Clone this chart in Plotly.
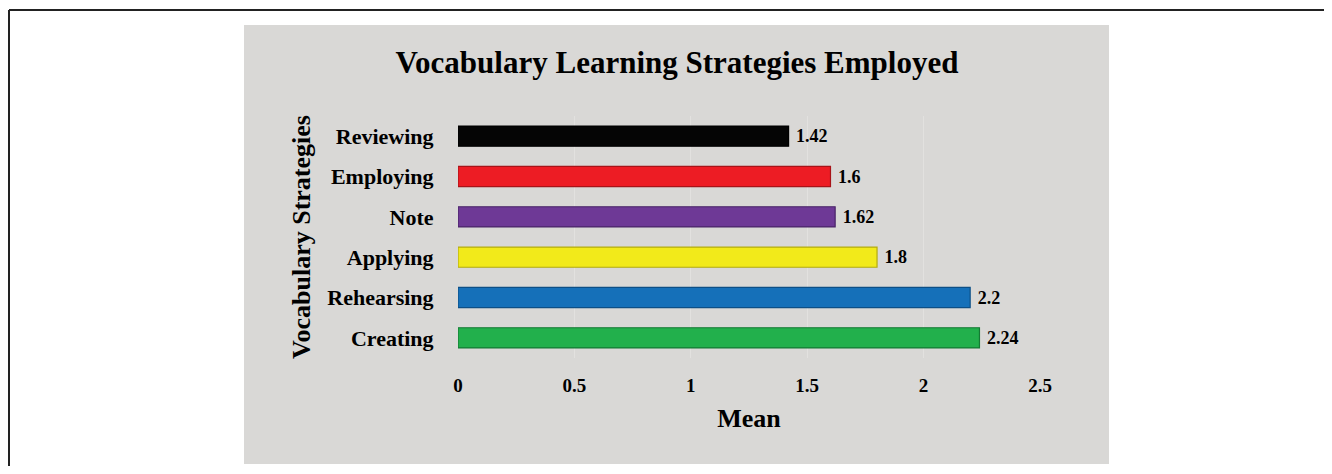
import plotly.graph_objects as go

categories = ["Creating", "Rehearsing", "Applying", "Note", "Employing", "Reviewing"]
means = [2.24, 2.2, 1.8, 1.62, 1.6, 1.42]
colors = ["#22b04c", "#1570b9", "#f2ea1a", "#6e3996", "#ed1c24", "#050505"]
edge_colors = ["#137a33", "#0d4f86", "#b3ab10", "#4a2468", "#a81318", "#000000"]
x_ticks = [0, 0.5, 1, 1.5, 2, 2.5]
x_tick_labels = ["0", "0.5", "1", "1.5", "2", "2.5"]

OFF = 8  # page body margin offset
SW, SH = 1332, 474
W, H = SW - OFF, SH - 2 * OFF
FONT = "Liberation Serif"

# desired screen pixels of the plot area
SX0, SX1, SY0, SY1 = 458, 1040, 116, 358
L, R = SX0 - OFF, SX1 - OFF
T, B = SY0 - OFF, SY1 - OFF
PW, PH = R - L, B - T


def px_x(sx):
    return (sx - OFF - L) / PW


def px_y(sy):
    return (B - (sy - OFF)) / PH


fig = go.Figure()
fig.add_trace(go.Bar(
    y=categories, x=means, orientation="h",
    marker=dict(color=colors, line=dict(color=edge_colors, width=1.2)),
    width=0.5,
    texttemplate="<b>\u00a0%{x}</b>", textposition="outside",
    textfont=dict(family=FONT, size=18, color="black"),
    cliponaxis=False, showlegend=False, hoverinfo="x+y",
))

shapes = [
    dict(type="rect", xref="paper", yref="paper", x0=px_x(244), x1=px_x(1109),
         y0=px_y(464), y1=px_y(25), fillcolor="#d9d8d6", line=dict(width=0), layer="below"),
    dict(type="line", xref="paper", yref="paper", x0=px_x(9), x1=px_x(1340), y0=px_y(10), y1=px_y(10),
         line=dict(color="#222", width=2)),
    dict(type="line", xref="paper", yref="paper", x0=px_x(9), x1=px_x(9), y0=px_y(480), y1=px_y(10),
         line=dict(color="#222", width=2)),
]

fig.update_layout(
    width=W, height=H,
    paper_bgcolor="white", plot_bgcolor="rgba(0,0,0,0)",
    margin=dict(l=L, r=W - R, t=T, b=H - B, pad=0),
    shapes=shapes,
    title=dict(text="<b>Vocabulary Learning Strategies Employed</b>", x=(677 - OFF) / W, xanchor="center",
               y=1 - (62 - OFF) / H, yanchor="middle", font=dict(family=FONT, size=31, color="black")),
    font=dict(family=FONT, color="black"),
    xaxis=dict(range=[0, 2.5], tickvals=x_ticks, ticktext=[f"<b>{t}</b>" for t in x_tick_labels],
               tickfont=dict(family=FONT, size=19, color="black"),
               ticks="outside", ticklen=10, tickcolor="rgba(0,0,0,0)",
               showgrid=True, gridcolor="#e2e1df", gridwidth=1, zeroline=False, showline=False,
               title=dict(text="<b>Mean</b>", font=dict(family=FONT, size=26, color="black"), standoff=14)),
    yaxis=dict(categoryorder="array", categoryarray=categories,
               ticktext=[f"<b>{c}</b>" for c in categories], tickvals=categories,
               tickfont=dict(family=FONT, size=22, color="black"),
               ticks="outside", ticklen=19, tickcolor="rgba(0,0,0,0)",
               showgrid=False, zeroline=False, showline=False,
               title=dict(text="<b>Vocabulary Strategies</b>", font=dict(family=FONT, size=26, color="black"), standoff=9)),
    bargap=0.5,
)

fig.write_html("out.html")
